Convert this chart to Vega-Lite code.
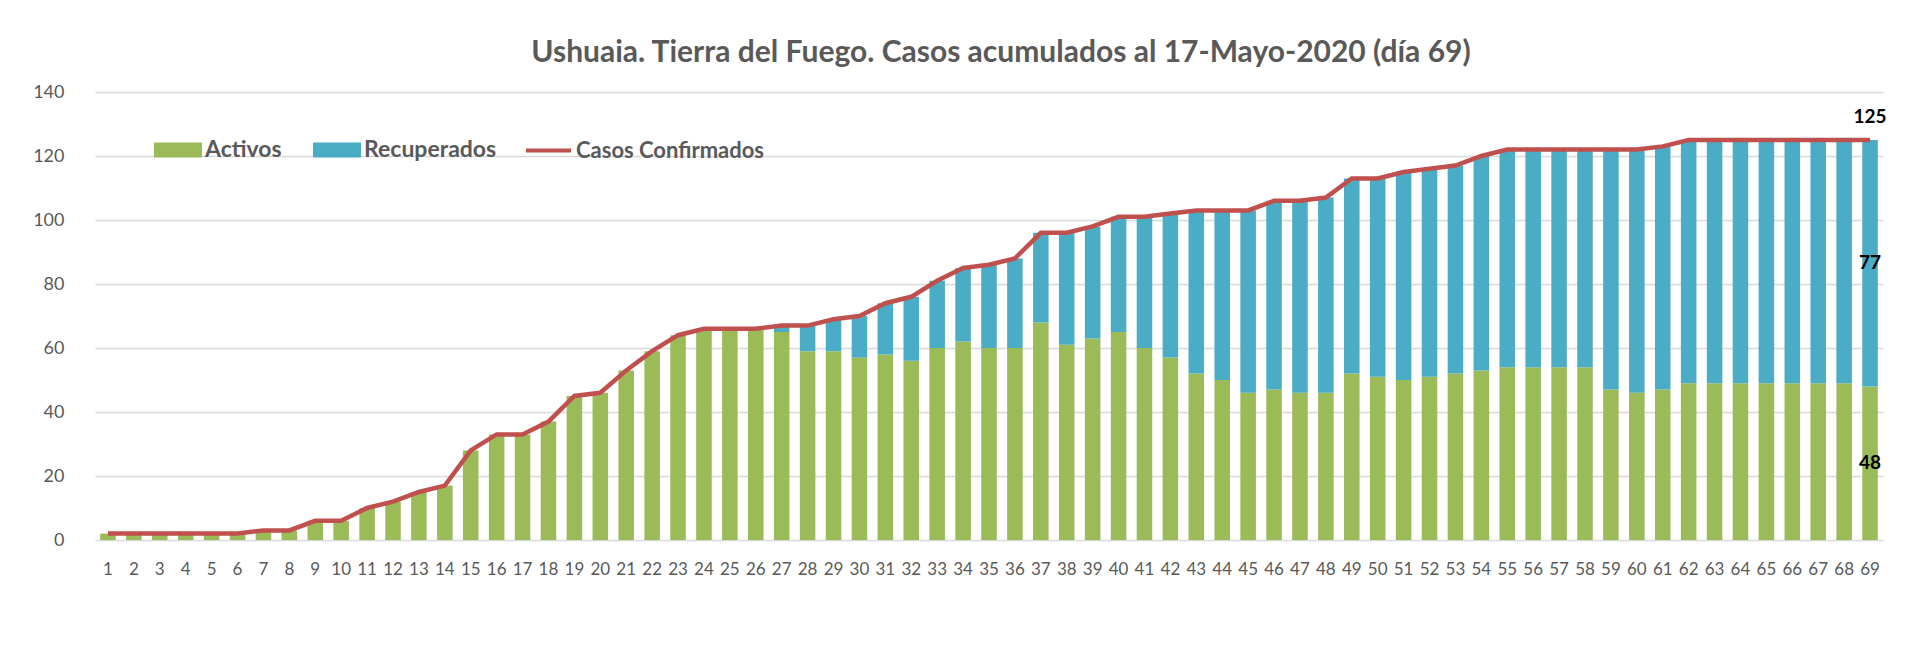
{
  "$schema": "https://vega.github.io/schema/vega-lite/v6.json",
  "width": 1788,
  "height": 448,
  "autosize": {"type": "none"},
  "padding": {"left": 95, "top": 92, "right": 29, "bottom": 124},
  "background": "white",
  "title": {
    "text": "Ushuaia. Tierra del Fuego. Casos acumulados al 17-Mayo-2020 (día 69)",
    "font": "Lato", "fontSize": 30, "fontWeight": "bold", "color": "#595959",
    "anchor": "middle", "offset": 15, "dx": 12
  },
  "config": {"view": {"stroke": null}, "font": "Lato"},
  "data": {"values": [
    {"dia": 1, "Activos": 2, "Recuperados": 0, "Confirmados": 2},
    {"dia": 2, "Activos": 2, "Recuperados": 0, "Confirmados": 2},
    {"dia": 3, "Activos": 2, "Recuperados": 0, "Confirmados": 2},
    {"dia": 4, "Activos": 2, "Recuperados": 0, "Confirmados": 2},
    {"dia": 5, "Activos": 2, "Recuperados": 0, "Confirmados": 2},
    {"dia": 6, "Activos": 2, "Recuperados": 0, "Confirmados": 2},
    {"dia": 7, "Activos": 3, "Recuperados": 0, "Confirmados": 3},
    {"dia": 8, "Activos": 3, "Recuperados": 0, "Confirmados": 3},
    {"dia": 9, "Activos": 6, "Recuperados": 0, "Confirmados": 6},
    {"dia": 10, "Activos": 6, "Recuperados": 0, "Confirmados": 6},
    {"dia": 11, "Activos": 10, "Recuperados": 0, "Confirmados": 10},
    {"dia": 12, "Activos": 12, "Recuperados": 0, "Confirmados": 12},
    {"dia": 13, "Activos": 15, "Recuperados": 0, "Confirmados": 15},
    {"dia": 14, "Activos": 17, "Recuperados": 0, "Confirmados": 17},
    {"dia": 15, "Activos": 28, "Recuperados": 0, "Confirmados": 28},
    {"dia": 16, "Activos": 33, "Recuperados": 0, "Confirmados": 33},
    {"dia": 17, "Activos": 33, "Recuperados": 0, "Confirmados": 33},
    {"dia": 18, "Activos": 37, "Recuperados": 0, "Confirmados": 37},
    {"dia": 19, "Activos": 45, "Recuperados": 0, "Confirmados": 45},
    {"dia": 20, "Activos": 46, "Recuperados": 0, "Confirmados": 46},
    {"dia": 21, "Activos": 53, "Recuperados": 0, "Confirmados": 53},
    {"dia": 22, "Activos": 59, "Recuperados": 0, "Confirmados": 59},
    {"dia": 23, "Activos": 64, "Recuperados": 0, "Confirmados": 64},
    {"dia": 24, "Activos": 66, "Recuperados": 0, "Confirmados": 66},
    {"dia": 25, "Activos": 66, "Recuperados": 0, "Confirmados": 66},
    {"dia": 26, "Activos": 66, "Recuperados": 0, "Confirmados": 66},
    {"dia": 27, "Activos": 65, "Recuperados": 2, "Confirmados": 67},
    {"dia": 28, "Activos": 59, "Recuperados": 8, "Confirmados": 67},
    {"dia": 29, "Activos": 59, "Recuperados": 10, "Confirmados": 69},
    {"dia": 30, "Activos": 57, "Recuperados": 13, "Confirmados": 70},
    {"dia": 31, "Activos": 58, "Recuperados": 16, "Confirmados": 74},
    {"dia": 32, "Activos": 56, "Recuperados": 20, "Confirmados": 76},
    {"dia": 33, "Activos": 60, "Recuperados": 21, "Confirmados": 81},
    {"dia": 34, "Activos": 62, "Recuperados": 23, "Confirmados": 85},
    {"dia": 35, "Activos": 60, "Recuperados": 26, "Confirmados": 86},
    {"dia": 36, "Activos": 60, "Recuperados": 28, "Confirmados": 88},
    {"dia": 37, "Activos": 68, "Recuperados": 28, "Confirmados": 96},
    {"dia": 38, "Activos": 61, "Recuperados": 35, "Confirmados": 96},
    {"dia": 39, "Activos": 63, "Recuperados": 35, "Confirmados": 98},
    {"dia": 40, "Activos": 65, "Recuperados": 36, "Confirmados": 101},
    {"dia": 41, "Activos": 60, "Recuperados": 41, "Confirmados": 101},
    {"dia": 42, "Activos": 57, "Recuperados": 45, "Confirmados": 102},
    {"dia": 43, "Activos": 52, "Recuperados": 51, "Confirmados": 103},
    {"dia": 44, "Activos": 50, "Recuperados": 53, "Confirmados": 103},
    {"dia": 45, "Activos": 46, "Recuperados": 57, "Confirmados": 103},
    {"dia": 46, "Activos": 47, "Recuperados": 59, "Confirmados": 106},
    {"dia": 47, "Activos": 46, "Recuperados": 60, "Confirmados": 106},
    {"dia": 48, "Activos": 46, "Recuperados": 61, "Confirmados": 107},
    {"dia": 49, "Activos": 52, "Recuperados": 61, "Confirmados": 113},
    {"dia": 50, "Activos": 51, "Recuperados": 62, "Confirmados": 113},
    {"dia": 51, "Activos": 50, "Recuperados": 65, "Confirmados": 115},
    {"dia": 52, "Activos": 51, "Recuperados": 65, "Confirmados": 116},
    {"dia": 53, "Activos": 52, "Recuperados": 65, "Confirmados": 117},
    {"dia": 54, "Activos": 53, "Recuperados": 67, "Confirmados": 120},
    {"dia": 55, "Activos": 54, "Recuperados": 68, "Confirmados": 122},
    {"dia": 56, "Activos": 54, "Recuperados": 68, "Confirmados": 122},
    {"dia": 57, "Activos": 54, "Recuperados": 68, "Confirmados": 122},
    {"dia": 58, "Activos": 54, "Recuperados": 68, "Confirmados": 122},
    {"dia": 59, "Activos": 47, "Recuperados": 75, "Confirmados": 122},
    {"dia": 60, "Activos": 46, "Recuperados": 76, "Confirmados": 122},
    {"dia": 61, "Activos": 47, "Recuperados": 76, "Confirmados": 123},
    {"dia": 62, "Activos": 49, "Recuperados": 76, "Confirmados": 125},
    {"dia": 63, "Activos": 49, "Recuperados": 76, "Confirmados": 125},
    {"dia": 64, "Activos": 49, "Recuperados": 76, "Confirmados": 125},
    {"dia": 65, "Activos": 49, "Recuperados": 76, "Confirmados": 125},
    {"dia": 66, "Activos": 49, "Recuperados": 76, "Confirmados": 125},
    {"dia": 67, "Activos": 49, "Recuperados": 76, "Confirmados": 125},
    {"dia": 68, "Activos": 49, "Recuperados": 76, "Confirmados": 125},
    {"dia": 69, "Activos": 48, "Recuperados": 77, "Confirmados": 125}
  ]},
  "encoding": {
    "x": {
      "field": "dia", "type": "ordinal",
      "scale": {"paddingInner": 0.4, "paddingOuter": 0.2},
      "axis": {
        "title": null, "labelAngle": 0, "ticks": false, "domain": false, "grid": false,
        "labelPadding": 21, "labelFont": "Lato", "labelFontSize": 17, "labelColor": "#595959"
      }
    }
  },
  "layer": [
    {
      "transform": [{"fold": ["Activos", "Recuperados"], "as": ["serie", "valor"]}],
      "mark": {"type": "bar"},
      "encoding": {
        "y": {
          "field": "valor", "type": "quantitative", "stack": "zero",
          "scale": {"domain": [0, 140], "nice": false},
          "axis": {
            "title": null, "values": [0, 20, 40, 60, 80, 100, 120, 140],
            "ticks": false, "domain": false, "grid": true,
            "gridColor": "#d9d9d9", "gridWidth": 1.3,
            "labelPadding": 31, "labelFont": "Lato", "labelFontSize": 18, "labelColor": "#595959"
          }
        },
        "color": {
          "field": "serie", "type": "nominal",
          "scale": {"domain": ["Activos", "Recuperados"], "range": ["#9bbb59", "#4bacc6"]},
          "legend": {
            "orient": "none", "legendX": 59, "legendY": 34, "direction": "horizontal",
            "title": null, "symbolType": "M-1,-0.31H1V0.31H-1Z", "symbolSize": 2304,
            "symbolStrokeWidth": 0, "labelOffset": 3, "columnPadding": 31, "labelLimit": 400,
            "labelFont": "Lato", "labelFontSize": 23, "labelFontWeight": "bold", "labelColor": "#595959"
          }
        },
        "order": {"field": "serie"}
      }
    },
    {
      "mark": {"type": "line", "strokeWidth": 4.5},
      "encoding": {
        "y": {"field": "Confirmados", "type": "quantitative"},
        "stroke": {
          "datum": "Casos Confirmados", "type": "nominal",
          "scale": {"range": ["#c0504d"]},
          "legend": {
            "orient": "none", "legendX": 429, "legendY": 34,
            "title": null, "symbolType": "stroke", "symbolSize": 2025, "symbolStrokeWidth": 4,
            "labelOffset": 3, "labelLimit": 400,
            "labelFont": "Lato", "labelFontSize": 22, "labelFontWeight": "bold", "labelColor": "#595959"
          }
        }
      }
    },
    {
      "transform": [{"filter": "datum.dia == 69"}],
      "mark": {"type": "text", "font": "Lato", "fontSize": 19, "fontWeight": "bold", "color": "#000000", "baseline": "alphabetic", "dy": -17},
      "encoding": {
        "y": {"field": "Confirmados", "type": "quantitative"},
        "text": {"field": "Confirmados"}
      }
    },
    {
      "transform": [
        {"filter": "datum.dia == 69"},
        {"fold": ["Activos", "Recuperados"], "as": ["serie", "valor"]},
        {"stack": "valor", "groupby": ["dia"], "sort": [{"field": "serie"}], "as": ["v0", "v1"]},
        {"calculate": "(datum.v0 + datum.v1) / 2", "as": "medio"}
      ],
      "mark": {"type": "text", "font": "Lato", "fontSize": 19, "fontWeight": "bold", "color": "#000000", "baseline": "middle"},
      "encoding": {
        "y": {"field": "medio", "type": "quantitative"},
        "text": {"field": "valor"}
      }
    }
  ]
}
